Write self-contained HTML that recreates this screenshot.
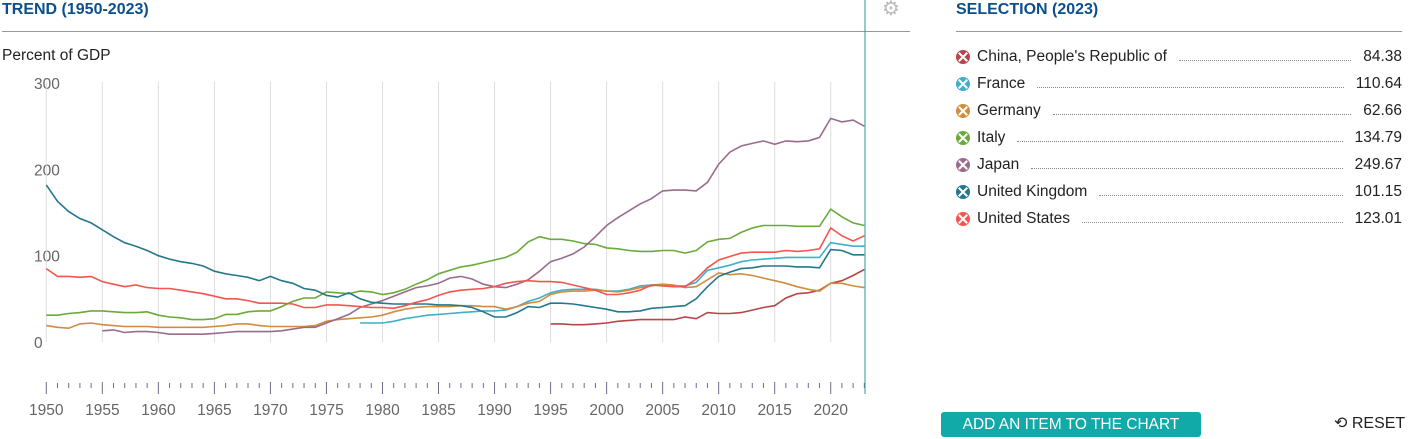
<!DOCTYPE html>
<html><head><meta charset="utf-8"><style>
body{margin:0;width:1410px;height:439px;overflow:hidden;background:#fff;font-family:"Liberation Sans",sans-serif;position:relative}
.h{position:absolute;top:1px;font-size:16px;font-weight:bold;color:#0d4f8b}
.row{position:absolute;left:956px;width:446px;height:20px;font-size:15.5px;color:#222;display:flex;align-items:center}
.row .ic{width:14px;height:14px;border-radius:50%;position:relative;margin-right:7px;flex:none}
.row .ic:before,.row .ic:after{content:"";position:absolute;left:6px;top:1px;width:2px;height:12px;background:#fff;transform:rotate(45deg)}
.row .ic:after{transform:rotate(-45deg)}
.row .dots{flex:1;border-bottom:1px dotted #888;margin:0 12px;height:0;position:relative;top:3px}
</style></head><body>
<div class="h" style="left:2px">TREND (1950-2023)</div>
<div class="h" style="left:956px">SELECTION (2023)</div>
<div style="position:absolute;left:882px;top:0;color:#bbb;font-size:20px;line-height:18px">⚙</div>
<svg id="chart" width="930" height="439" style="position:absolute;left:0;top:0"></svg>
<div id="legend"></div>
<div style="position:absolute;left:941px;top:412px;width:260px;height:25px;background:#12aaa8;border-radius:3px;color:#fff;font-size:15.5px;line-height:25px;text-align:center">ADD AN ITEM TO THE CHART</div>
<div style="position:absolute;left:1334px;top:413px;font-size:16px;color:#222">⟲ RESET</div>
<script>
const years=[];for(let y=1950;y<=2023;y++)years.push(y);
const uk=[182,163,151,143,138,130,122,115,111,106,100,96,93,91,88,82,79,77,75,71,76,71,68,62,60,54,52,57,50,46,45,44,44,44,44,43,43,42,40,35,29,29,34,41,40,45,45,44,42,40,38,35,35,36,39,40,41,42,50,64,76,81,85,86,88,88,88,87,87,86,107,106,101,101];
const us=[85,76,76,75,76,70,67,64,66,63,62,62,60,58,56,53,50,50,48,45,45,45,44,40,40,43,43,42,41,40,40,39,42,46,49,54,58,60,61,62,64,68,70,71,70,70,69,66,63,60,55,55,57,60,66,65,64,64,73,86,95,99,103,104,104,104,106,105,106,108,132,123,117,123];
const italy=[31,31,33,34,36,36,35,34,34,35,31,29,28,26,26,27,32,32,35,36,36,41,47,51,51,58,57,56,59,58,55,57,61,67,72,79,83,87,89,92,95,98,104,116,122,119,119,117,114,113,109,108,106,105,105,106,106,103,106,116,119,120,127,132,135,135,135,134,134,134,154,145,138,135];
const germany=[19,17,16,21,22,20,19,18,18,18,17,17,17,17,17,18,19,21,21,19,18,18,18,18,19,24,26,27,28,29,31,35,38,40,41,41,41,42,42,41,41,38,41,45,47,55,58,59,59,60,59,58,60,63,65,67,66,63,64,72,80,78,79,77,74,71,68,64,61,59,68,68,65,63];
const france=[null,null,null,null,null,null,null,null,null,null,null,null,null,null,null,null,null,null,null,null,null,null,null,null,null,null,null,null,22,22,22,24,27,29,31,32,33,34,35,36,36,37,41,47,51,57,60,61,61,61,59,59,61,65,66,67,65,65,69,83,86,89,93,95,96,97,98,98,98,98,115,113,111,111];
const japan=[null,null,null,null,null,13,14,11,12,12,11,9,9,9,9,10,11,12,12,12,12,13,15,17,17,22,27,32,40,44,48,53,58,63,65,68,74,76,73,67,64,63,67,72,82,93,97,102,110,122,135,144,152,160,166,175,176,176,175,185,206,220,227,230,233,229,233,232,233,237,259,255,257,250];
const china=[null,null,null,null,null,null,null,null,null,null,null,null,null,null,null,null,null,null,null,null,null,null,null,null,null,null,null,null,null,null,null,null,null,null,null,null,null,null,null,null,null,null,null,null,null,21,21,20,20,21,22,24,25,26,26,26,26,29,27,34,33,33,34,37,40,42,51,56,57,60,68,71,77,84];
const names=["China, People's Republic of","France","Germany","Italy","Japan","United Kingdom","United States"];
const latest=["84.38","110.64","62.66","134.79","249.67","101.15","123.01"];
const yTicks=[0,100,200,300];
const colors=["#b5464b","#3fb0c9","#d08d3e","#6aaa3a","#9b6b8c","#23788c","#f4554e"];
const series=[china,france,germany,italy,japan,uk,us];
const X=y=>46.3+(y-1950)*11.206, Y=v=>342-v*0.8633;
const svg=document.getElementById('chart'),NS="http://www.w3.org/2000/svg";
function mk(t,a,p){const e=document.createElementNS(NS,t);for(const k in a)e.setAttribute(k,a[k]);(p||svg).appendChild(e);return e;}
let l=mk('line',{x1:2,y1:31.5,x2:910,y2:31.5,stroke:'#999','stroke-width':1});

let t=mk('text',{x:2,y:60,'font-size':15.5,fill:'#222'});t.textContent='Percent of GDP';

yTicks.forEach(v=>{const e=mk('text',{x:34,y:Y(v)+6,'font-size':15.5,fill:'#666'});e.textContent=v;
});
years.forEach(y=>{const maj=y%5===0;
if(maj){const g=mk('line',{x1:X(y),y1:82,x2:X(y),y2:342,stroke:'#ddd','stroke-width':1});

const tx=mk('text',{x:X(y),y:415,'font-size':15.5,fill:'#666','text-anchor':'middle'});tx.textContent=y;
}
const tk=mk('line',{x1:X(y),y1:maj?382:383,x2:X(y),y2:maj?394:388,stroke:'#6d6d8e','stroke-width':1});
});
series.forEach((s,i)=>{let d='',pen=false;s.forEach((v,j)=>{if(v==null){pen=false;return;}d+=(pen?'L':'M')+X(years[j]).toFixed(1)+','+Y(v).toFixed(1);pen=true;});
const p=mk('path',{d:d,fill:'none',stroke:colors[i],'stroke-width':1.6});
});
const cl=mk('line',{x1:865,y1:0,x2:865,y2:394,stroke:'#2a9a9a','stroke-width':1});

const lr=document.createElement('div');lr.style.cssText='position:absolute;left:956px;top:31px;width:446px;height:1px;background:#999';


document.body.appendChild(lr);
const lg=document.getElementById('legend');
names.forEach((n,i)=>{const r=document.createElement('div');r.className='row';r.style.top=(47+i*27)+'px';


r.innerHTML='<span class="ic" style="background:'+colors[i]+'"></span><span>'+n+'</span><span class="dots"></span><span>'+latest[i]+'</span>';
lg.appendChild(r);});
</script>
</body></html>
